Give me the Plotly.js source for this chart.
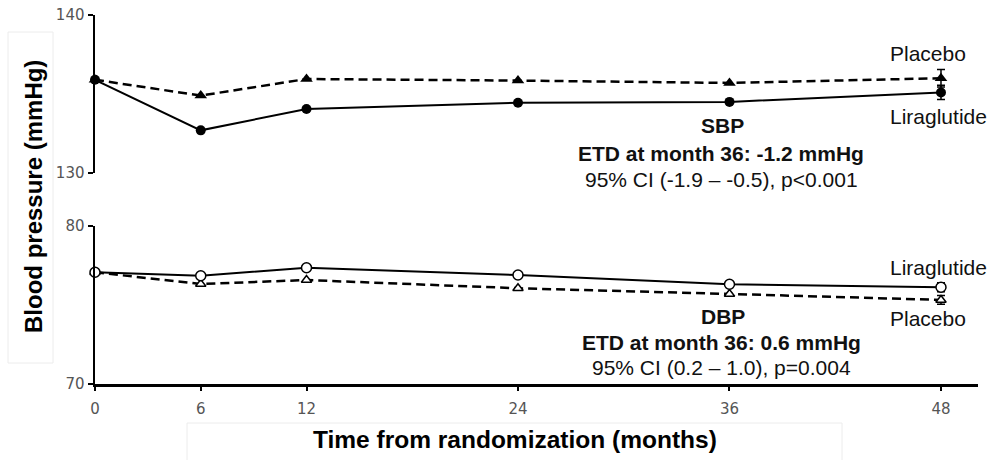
<!DOCTYPE html>
<html>
<head>
<meta charset="utf-8">
<script src="https://cdn.plot.ly/plotly-3.0.1.min.js"></script>
<style>html,body{margin:0;padding:0;background:#fff}#chart{width:991px;height:460px}</style>
</head>
<body>
<div id="chart"></div>
<script>
const months = [0, 6, 12, 24, 36, 48];
const tickLabels = ["0", "6", "12", "24", "36", "48"];
const sbpLira = [135.9, 132.7, 134.05, 134.45, 134.5, 135.1];
const sbpLiraErr = [NaN, NaN, NaN, NaN, NaN, 0.45];
const sbpPlac = [135.9, 134.9, 135.95, 135.85, 135.7, 136.0];
const sbpPlacErr = [NaN, NaN, NaN, NaN, NaN, 0.55];
const dbpLira = [77.07, 76.85, 77.36, 76.9, 76.31, 76.12];
const dbpLiraErr = [NaN, NaN, NaN, NaN, NaN, 0.28];
const dbpPlac = [77.07, 76.33, 76.58, 76.06, 75.7, 75.32];
const dbpPlacErr = [NaN, NaN, NaN, NaN, NaN, 0.28];

const FONT = "Liberation Sans, Arial, sans-serif";
const TICKFONT = "DejaVu Sans, Verdana, sans-serif";

function err(a){return {type:'data', array:a, visible:true, color:'#000', thickness:1.5, width:4};}

const traces = [
  {x: months, y: sbpPlac, yaxis:'y2', mode:'lines+markers', cliponaxis:false,
   line:{color:'#000', width:2.5, dash:'9px,5px'},
   marker:{symbol:'triangle-up', size:11, color:'#000'}, error_y: err(sbpPlacErr)},
  {x: months, y: sbpLira, yaxis:'y2', mode:'lines+markers', cliponaxis:false,
   line:{color:'#000', width:2},
   marker:{symbol:'circle', size:10, color:'#000'}, error_y: err(sbpLiraErr)},
  {x: months, y: dbpPlac, yaxis:'y', mode:'lines+markers', cliponaxis:false,
   line:{color:'#000', width:2.5, dash:'9px,5px'},
   marker:{symbol:'triangle-up', size:9, color:'#fff', line:{color:'#000', width:1.5}}, error_y: err(dbpPlacErr)},
  {x: months, y: dbpLira, yaxis:'y', mode:'lines+markers', cliponaxis:false,
   line:{color:'#000', width:2},
   marker:{symbol:'circle', size:10, color:'#fff', line:{color:'#000', width:1.5}}, error_y: err(dbpLiraErr)}
];

const yax = {
  showline:true, linecolor:'#000', linewidth:2.5, ticks:'outside', ticklen:5, tickwidth:2,
  tickcolor:'#000', showgrid:false, zeroline:false, tickfont:{family:TICKFONT, size:15, color:'#555'}
};

// positions in paper coordinates (plot area: x 95..978 px, y 15..384 px)
function px(x){return (x - 95) / 883;}
function py(y){return (384 - y) / 369;}
function ann(x, y, text, size, bold){
  return {x:px(x), y:py(y), xref:'paper', yref:'paper', text: bold ? '<b>'+text+'</b>' : text, showarrow:false,
    font:{family:FONT, size:size, color:'#111'}, xanchor:'center', yanchor:'middle'};
}

const layout = {
  width:991, height:460,
  margin:{l:95, r:13, t:15, b:76},
  paper_bgcolor:'#fff', plot_bgcolor:'rgba(0,0,0,0)',
  showlegend:false,
  xaxis:{range:[0, 50.1], tickvals:months, ticktext:tickLabels, showline:true, linecolor:'#000', linewidth:2.5,
    ticks:'outside', ticklen:4, tickwidth:2, tickcolor:'#000', showgrid:false, zeroline:false,
    tickfont:{family:TICKFONT, size:15, color:'#555'}, ticklabelstandoff:5, anchor:'y'},
  yaxis: Object.assign({}, yax, {domain:[0, 0.4282], range:[70, 80], tickvals:[70, 80]}),
  yaxis2: Object.assign({}, yax, {domain:[0.5718, 1], range:[130, 140], tickvals:[130, 140], anchor:'x'}),
  shapes:[
    {type:'rect', xref:'paper', yref:'paper', x0:px(8), x1:px(53), y0:py(363), y1:py(32), line:{color:'#ececec', width:1}, layer:'below'},
    {type:'rect', xref:'paper', yref:'paper', x0:px(187), x1:px(842), y0:py(475), y1:py(423), line:{color:'#ececec', width:1}, layer:'below'}
  ],
  annotations:[
    ann(928, 53, 'Placebo', 21, false),
    ann(938, 117, 'Liraglutide', 21, false),
    ann(722, 126, 'SBP', 21, true),
    ann(721, 153, 'ETD at month 36: -1.2 mmHg', 21, true),
    ann(721, 179, '95% CI (-1.9 – -0.5), p<0.001', 21, false),
    ann(938, 267, 'Liraglutide', 21, false),
    ann(928, 318, 'Placebo', 21, false),
    ann(723, 316, 'DBP', 21, true),
    ann(721, 342, 'ETD at month 36: 0.6 mmHg', 21, true),
    ann(721, 367, '95% CI (0.2 – 1.0), p=0.004', 21, false),
    {xref:'paper', yref:'paper', x:px(33), y:py(197), text:'<b>Blood pressure (mmHg)</b>', textangle:-90,
     showarrow:false, font:{family:FONT, size:24, color:'#000'}, xanchor:'center', yanchor:'middle'},
    {xref:'paper', yref:'paper', x:px(515), y:py(439), text:'<b>Time from randomization (months)</b>',
     showarrow:false, font:{family:FONT, size:24.5, color:'#000'}, xanchor:'center', yanchor:'middle'}
  ]
};

Plotly.newPlot('chart', traces, layout, {displayModeBar:false, staticPlot:true});
</script>
</body>
</html>
